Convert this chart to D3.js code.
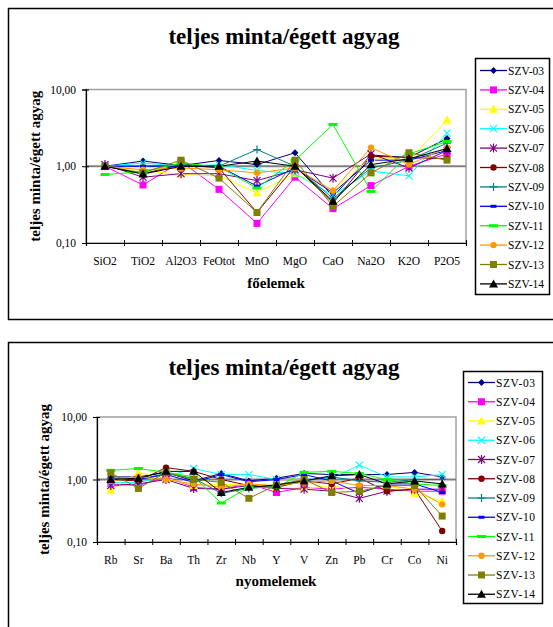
<!DOCTYPE html>
<html>
<head>
<meta charset="utf-8">
<script src="https://cdn.jsdelivr.net/npm/d3@7"></script>
<style>
  body { margin: 0; background: #fff; }
  text { font-family: "Liberation Serif", "Times New Roman", serif; }
</style>
</head>
<body>
<div id="chart"></div>
<script>
// categories
var majorCats = ["SiO2", "TiO2", "Al2O3", "FeOtot", "MnO", "MgO", "CaO", "Na2O", "K2O", "P2O5"];
var traceCats = ["Rb", "Sr", "Ba", "Th", "Zr", "Nb", "Y", "V", "Zn", "Pb", "Cr", "Co", "Ni"];
var seriesNames = ["SZV-03", "SZV-04", "SZV-05", "SZV-06", "SZV-07", "SZV-08",
                   "SZV-09", "SZV-10", "SZV-11", "SZV-12", "SZV-13", "SZV-14"];
var yTicks = [0.1, 1, 10];

// sample / burnt clay ratios, major elements (one row per series)
var majorValues = [
  [1.00, 1.17, 1.02, 1.19, 1.05, 1.50, 0.40, 1.40, 1.30, 2.30],
  [1.00, 0.57, 1.15, 0.50, 0.18, 0.72, 0.28, 0.56, 1.00, 1.45],
  [1.00, 0.88, 0.78, 0.75, 0.45, 0.80, 0.48, 1.30, 1.20, 4.00],
  [1.00, 1.10, 1.00, 1.05, 0.88, 0.80, 0.42, 0.87, 0.75, 2.70],
  [1.05, 0.72, 0.80, 0.80, 0.65, 0.90, 0.70, 1.45, 0.95, 1.60],
  [1.00, 0.80, 1.05, 0.95, 0.25, 1.00, 0.33, 1.35, 1.30, 1.25],
  [1.00, 1.00, 1.05, 1.00, 1.65, 1.00, 0.38, 0.95, 1.20, 2.00],
  [1.00, 1.00, 1.00, 1.00, 0.55, 0.95, 0.45, 1.20, 1.20, 1.60],
  [0.78, 0.85, 1.10, 0.98, 0.52, 1.20, 3.50, 0.47, 1.45, 2.10],
  [1.00, 0.90, 0.95, 0.90, 0.82, 0.95, 0.48, 1.75, 1.05, 1.75],
  [1.00, 0.82, 1.20, 0.70, 0.25, 1.20, 0.30, 0.82, 1.50, 1.20],
  [1.00, 0.79, 1.00, 1.00, 1.17, 1.00, 0.35, 1.05, 1.25, 1.70]
];

// trace elements
var traceValues = [
  [1.10, 1.10, 1.30, 0.95, 1.25, 0.95, 1.05, 1.25, 1.20, 1.20, 1.20, 1.30, 1.10],
  [0.85, 0.80, 1.10, 0.75, 0.70, 0.85, 0.62, 0.75, 0.70, 0.75, 0.70, 0.65, 0.65],
  [0.67, 1.30, 1.05, 0.80, 0.85, 0.80, 0.75, 0.72, 0.80, 0.65, 0.80, 0.60, 0.45],
  [0.90, 0.90, 1.10, 1.50, 1.20, 1.20, 1.00, 1.00, 1.05, 1.70, 1.10, 1.10, 1.20],
  [0.80, 0.85, 1.00, 0.72, 0.70, 0.80, 0.72, 0.70, 0.65, 0.50, 0.65, 0.70, 0.70],
  [1.00, 0.95, 1.55, 1.35, 1.00, 0.80, 0.75, 0.95, 0.85, 1.05, 0.65, 0.70, 0.15],
  [1.05, 1.00, 1.25, 1.05, 0.60, 0.72, 0.78, 0.95, 1.10, 0.95, 0.90, 1.00, 1.00],
  [1.00, 1.00, 1.20, 0.90, 1.20, 0.92, 1.00, 1.20, 0.95, 0.60, 0.85, 0.85, 0.62],
  [1.40, 1.50, 1.30, 1.10, 0.42, 0.75, 0.75, 1.30, 1.35, 1.25, 1.00, 0.85, 0.80],
  [0.95, 1.10, 1.00, 0.85, 0.75, 0.85, 0.80, 0.90, 0.95, 0.80, 0.80, 0.70, 0.40],
  [1.28, 0.72, 1.30, 1.00, 0.90, 0.50, 0.82, 1.00, 0.62, 0.65, 0.80, 0.80, 0.26],
  [1.00, 1.05, 1.35, 1.35, 0.62, 0.75, 0.82, 0.95, 1.15, 1.20, 0.85, 0.95, 0.85]
];

var seriesColors = ["#000080", "#ff00ff", "#ffff00", "#00ffff", "#800080", "#800000",
                    "#008080", "#0000ff", "#00ff00", "#ff9900", "#808000", "#000000"];
var seriesMarkers = ["diamond", "square", "triangle", "x", "star", "circle",
                     "plus", "dash", "longdash", "circle", "square", "triangle"];

var svg = d3.select("#chart").append("svg")
  .attr("width", 553)
  .attr("height", 627);

// draw one marker of a given kind centred at 0,0
function drawMarker(g, kind, color) {
  if (kind == "diamond") {
    g.append("path").attr("d", d3.symbol(d3.symbolDiamond2, 30)()).attr("fill", color);
  } else if (kind == "square") {
    g.append("rect").attr("x", -3.5).attr("y", -3.5).attr("width", 7).attr("height", 7).attr("fill", color);
  } else if (kind == "triangle") {
    g.append("path").attr("d", "M0,-4.5L4.5,3.5L-4.5,3.5Z").attr("fill", color);
  } else if (kind == "circle") {
    g.append("circle").attr("r", 3.2).attr("fill", color);
  } else if (kind == "x") {
    g.append("path").attr("d", "M-3.5,-3.5L3.5,3.5M-3.5,3.5L3.5,-3.5")
      .attr("stroke", color).attr("stroke-width", 1.2).attr("fill", "none");
  } else if (kind == "star") {
    g.append("path").attr("d", "M-3.5,-3.5L3.5,3.5M-3.5,3.5L3.5,-3.5M0,-4.5L0,4.5")
      .attr("stroke", color).attr("stroke-width", 1.2).attr("fill", "none");
  } else if (kind == "plus") {
    g.append("path").attr("d", "M0,-4L0,4M-4,0L4,0")
      .attr("stroke", color).attr("stroke-width", 1.2).attr("fill", "none");
  } else if (kind == "dash") {
    g.append("rect").attr("x", -3).attr("y", -1.5).attr("width", 6).attr("height", 3).attr("fill", color);
  } else if (kind == "longdash") {
    g.append("rect").attr("x", -4.5).attr("y", -1.5).attr("width", 9).attr("height", 3).attr("fill", color);
  }
}

function drawChart(cfg) {
  var root = svg.append("g");

  // outer frame
  root.append("rect")
    .attr("x", 8.5).attr("y", cfg.boxTop + 0.5)
    .attr("width", 600).attr("height", cfg.boxHeight)
    .attr("fill", "none").attr("stroke", "#000").attr("stroke-width", 1.5);

  // title
  root.append("text")
    .attr("x", 284).attr("y", cfg.titleY)
    .attr("text-anchor", "middle")
    .style("font-size", "23px").style("font-weight", "bold")
    .text("teljes minta/égett agyag");

  var x = d3.scaleBand().domain(cfg.cats).range([cfg.x0, cfg.x1]);
  var xEdge = d3.scaleLinear().domain([0, cfg.cats.length]).range([cfg.x0, cfg.x1]);
  var y = d3.scaleLog().domain([0.1, 10]).range([cfg.y1, cfg.y0]);

  // plot area border (gray top / right)
  root.append("rect")
    .attr("x", cfg.x0).attr("y", cfg.y0)
    .attr("width", cfg.x1 - cfg.x0).attr("height", cfg.y1 - cfg.y0)
    .attr("fill", "#fff").attr("stroke", "#a0a0a0").attr("stroke-width", 1.5);

  // gridline at 1,00
  root.append("line")
    .attr("x1", cfg.x0).attr("x2", cfg.x1)
    .attr("y1", y(1)).attr("y2", y(1))
    .attr("stroke", "#808080").attr("stroke-width", 2);

  // y axis
  var yAxis = root.append("g")
    .attr("transform", "translate(" + cfg.x0 + ",0)")
    .call(d3.axisLeft(y).tickValues(yTicks).tickSize(4).tickPadding(6)
      .tickFormat(function (d) { return d3.format(".2f")(d).replace(".", ","); }));
  yAxis.select(".domain").attr("stroke", "#000").attr("stroke-width", 1.2);
  yAxis.selectAll(".tick line").attr("x1", 3).attr("stroke", "#000");
  yAxis.selectAll(".tick text")
    .style("font-size", "11.5px").style("font-family", "Liberation Serif").attr("fill", "#000");

  // x axis - ticks on the category boundaries
  var xTickAxis = root.append("g")
    .attr("transform", "translate(0," + cfg.y1 + ")")
    .call(d3.axisBottom(xEdge).tickValues(d3.range(cfg.cats.length + 1)).tickFormat("").tickSize(3));
  xTickAxis.select(".domain").attr("stroke", "#000").attr("stroke-width", 1.2);
  xTickAxis.selectAll(".tick line").attr("y1", -3).attr("stroke", "#000");

  var xLabelAxis = root.append("g")
    .attr("transform", "translate(0," + cfg.y1 + ")")
    .call(d3.axisBottom(x).tickSize(0).tickPadding(14));
  xLabelAxis.select(".domain").remove();
  xLabelAxis.selectAll(".tick text")
    .style("font-size", "11.5px").style("font-family", "Liberation Serif").attr("fill", "#000");

  // axis titles
  root.append("text")
    .attr("x", 276).attr("y", cfg.xTitleY)
    .attr("text-anchor", "middle")
    .style("font-size", "15px").style("font-weight", "bold")
    .text(cfg.xTitle);

  root.append("text")
    .attr("transform", "translate(" + cfg.yTitleX + "," + ((cfg.y0 + cfg.y1) / 2) + ") rotate(-90)")
    .attr("text-anchor", "middle")
    .style("font-size", "15px").style("font-weight", "bold")
    .text("teljes minta/égett agyag");

  // series lines
  var line = d3.line()
    .x(function (d, i) { return x(cfg.cats[i]) + x.bandwidth() / 2; })
    .y(function (d) { return y(d); });

  cfg.values.forEach(function (vals, s) {
    root.append("path")
      .datum(vals)
      .attr("d", line)
      .attr("fill", "none")
      .attr("stroke", seriesColors[s])
      .attr("stroke-width", 1);
  });

  // markers on top
  cfg.values.forEach(function (vals, s) {
    vals.forEach(function (v, i) {
      var g = root.append("g")
        .attr("transform", "translate(" + (x(cfg.cats[i]) + x.bandwidth() / 2) + "," + y(v) + ")");
      drawMarker(g, seriesMarkers[s], seriesColors[s]);
    });
  });

  // legend
  var lg = root.append("g");
  lg.append("rect")
    .attr("x", cfg.legX + 0.5).attr("y", cfg.legY + 0.5)
    .attr("width", cfg.legW).attr("height", cfg.legH)
    .attr("fill", "#fff").attr("stroke", "#000").attr("stroke-width", 1.5);

  seriesNames.forEach(function (name, s) {
    var cy = cfg.legFirst + s * cfg.legStep;
    var item = lg.append("g").attr("transform", "translate(" + (cfg.legX + 5) + "," + cy + ")");
    item.append("line")
      .attr("x1", 0).attr("x2", 27)
      .attr("stroke", seriesColors[s]).attr("stroke-width", 1.3);
    drawMarker(item.append("g").attr("transform", "translate(13.5,0)"), seriesMarkers[s], seriesColors[s]);
    item.append("text")
      .attr("x", 28).attr("y", 4)
      .style("font-size", "11.5px")
      .style("letter-spacing", cfg.legSpacing)
      .text(name);
  });
}

drawChart({
  boxTop: 8, boxHeight: 311, titleY: 44,
  cats: majorCats, values: majorValues,
  x0: 86, x1: 466, y0: 89.5, y1: 243,
  xTitle: "főelemek", xTitleY: 288, yTitleX: 40,
  legX: 475, legY: 58, legW: 74, legH: 236,
  legFirst: 70.5, legStep: 19.4, legSpacing: "0px"
});

drawChart({
  boxTop: 342, boxHeight: 300, titleY: 375,
  cats: traceCats, values: traceValues,
  x0: 97, x1: 456, y0: 417, y1: 542,
  xTitle: "nyomelemek", xTitleY: 586, yTitleX: 49,
  legX: 463, legY: 371, legW: 79, legH: 232,
  legFirst: 382.5, legStep: 19.25, legSpacing: "0.6px"
});
</script>
</body>
</html>
